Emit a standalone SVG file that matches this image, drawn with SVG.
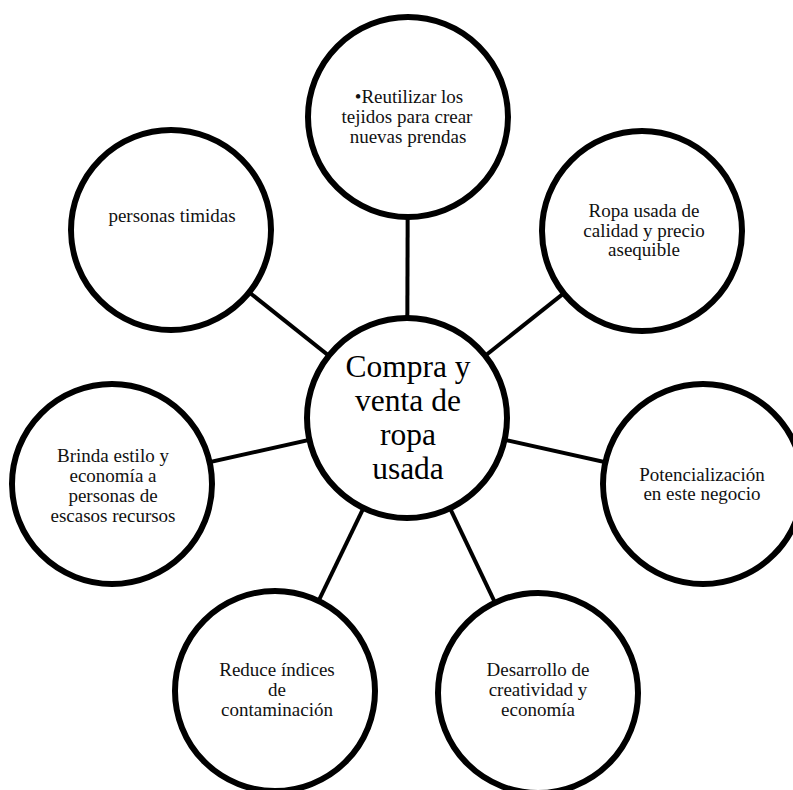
<svg xmlns="http://www.w3.org/2000/svg" width="793" height="790" viewBox="0 0 793 790">
<style>
.bg{fill:#ffffff}
.node circle{fill:#ffffff;stroke:#000000;stroke-width:6}
.conn line{stroke:#000000;stroke-width:4}
.t{font-family:"Liberation Serif","Times New Roman",serif;font-size:19px;fill:#111111;text-anchor:middle}
.tc{font-family:"Liberation Serif","Times New Roman",serif;font-size:31.5px;fill:#000000;text-anchor:middle}
</style>
<rect class="bg" x="0" y="0" width="793" height="790"/>
<g id="connectors" class="conn">
<line x1="407" y1="418" x2="408" y2="117"/>
<line x1="407" y1="418" x2="642" y2="231"/>
<line x1="407" y1="418" x2="703" y2="484"/>
<line x1="407" y1="418" x2="538" y2="693"/>
<line x1="407" y1="418" x2="275" y2="691"/>
<line x1="407" y1="418" x2="112" y2="484"/>
<line x1="407" y1="418" x2="171" y2="230"/>
</g>
<g id="node-top" class="node">
<circle cx="408" cy="117" r="100"/>
<text class="t" x="409" y="103">•Reutilizar los</text>
<text class="t" x="407" y="123">tejidos para crear</text>
<text class="t" x="408" y="143">nuevas prendas</text>
</g>
<g id="node-top-right" class="node">
<circle cx="642" cy="231" r="100"/>
<text class="t" x="644" y="217">Ropa usada de</text>
<text class="t" x="644" y="237">calidad y precio</text>
<text class="t" x="644" y="256">asequible</text>
</g>
<g id="node-right" class="node">
<circle cx="703" cy="484" r="100"/>
<text class="t" x="702" y="481">Potencialización</text>
<text class="t" x="702" y="500">en este negocio</text>
</g>
<g id="node-bottom-right" class="node">
<circle cx="538" cy="693" r="100"/>
<text class="t" x="538" y="676">Desarrollo de</text>
<text class="t" x="538" y="696">creatividad y</text>
<text class="t" x="538" y="716">economía</text>
</g>
<g id="node-bottom-left" class="node">
<circle cx="275" cy="691" r="100"/>
<text class="t" x="277" y="676">Reduce índices</text>
<text class="t" x="277" y="696">de</text>
<text class="t" x="277" y="716">contaminación</text>
</g>
<g id="node-left" class="node">
<circle cx="112" cy="484" r="100"/>
<text class="t" x="113" y="462">Brinda estilo y</text>
<text class="t" x="113" y="482">economía a</text>
<text class="t" x="113" y="502">personas de</text>
<text class="t" x="113" y="522">escasos recursos</text>
</g>
<g id="node-top-left" class="node">
<circle cx="171" cy="230" r="100"/>
<text class="t" x="172" y="222">personas timidas</text>
</g>
<g id="node-center" class="node">
<circle cx="407" cy="418" r="100"/>
<text class="tc" x="408" y="377">Compra y</text>
<text class="tc" x="408" y="411">venta de</text>
<text class="tc" x="408" y="445">ropa</text>
<text class="tc" x="408" y="479">usada</text>
</g>
</svg>
